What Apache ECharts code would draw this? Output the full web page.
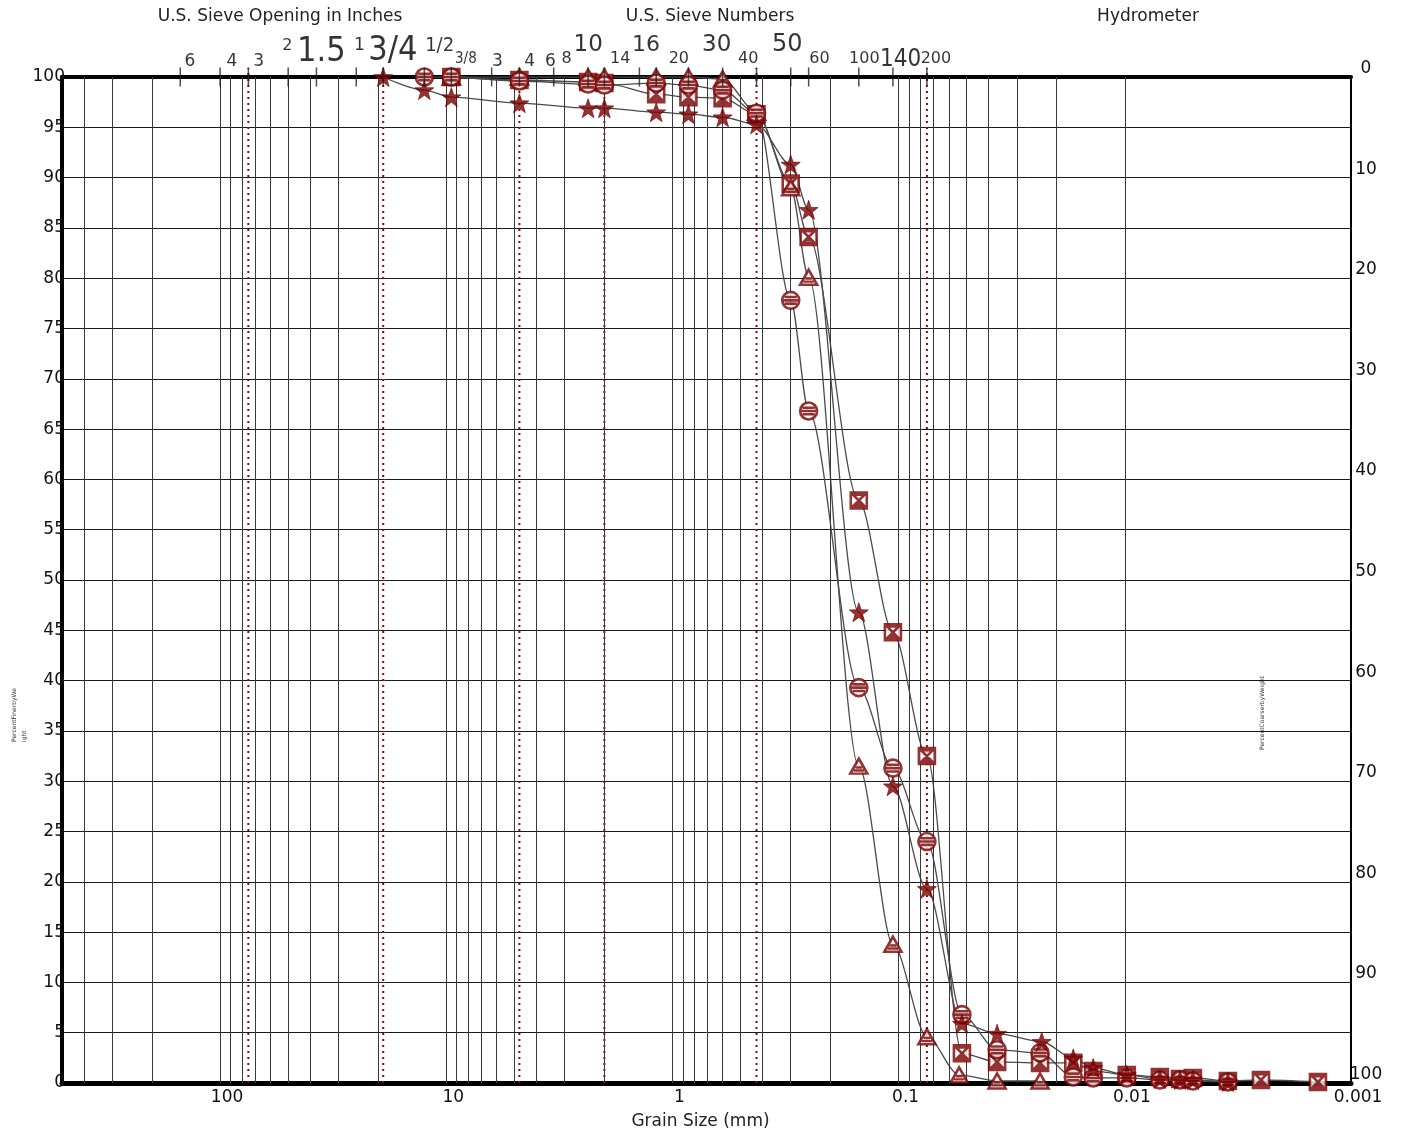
<!DOCTYPE html>
<html><head><meta charset="utf-8">
<script src="https://cdn.jsdelivr.net/npm/echarts@6/dist/echarts.min.js"></script>
<style>html,body{margin:0;padding:0;background:#fff}#c{width:1403px;height:1137px}</style>
</head><body><div id="c"></div>
<script>
// ---------------- DATA ----------------
// Sample 1 (star)
const starSizes = [19.0, 12.5, 9.5, 4.75, 2.36, 2.0, 1.18, 0.85, 0.6, 0.425, 0.3, 0.25, 0.15, 0.106, 0.075, 0.0525, 0.0367, 0.0233, 0.0169, 0.0138, 0.0098, 0.0070, 0.0057, 0.0050, 0.0035];
const starFiner = [100, 98.7, 98.0, 97.4, 96.9, 96.9, 96.5, 96.3, 96.0, 95.3, 91.3, 86.8, 46.8, 29.5, 19.3, 5.9, 4.9, 4.1, 2.45, 1.5, 0.8, 0.4, 0.3, 0.3, 0.1];
// Sample 2 (circle)
const circleSizes = [12.5, 9.5, 4.75, 2.36, 2.0, 1.18, 0.85, 0.6, 0.425, 0.3, 0.25, 0.15, 0.106, 0.075, 0.0525, 0.0367, 0.0237, 0.0169, 0.0138, 0.0098, 0.0070, 0.0057, 0.0050, 0.0035];
const circleFiner = [100, 100, 99.6, 99.3, 99.2, 99.4, 99.2, 98.7, 96.4, 77.8, 66.8, 39.3, 31.3, 24.0, 6.8, 3.3, 3.0, 0.6, 0.5, 0.5, 0.3, 0.3, 0.2, 0.1];
// Sample 3 (triangle)
const triSizes = [9.5, 4.75, 2.36, 2.0, 1.18, 0.85, 0.6, 0.425, 0.3, 0.25, 0.15, 0.106, 0.075, 0.054, 0.0367, 0.0237];
const triFiner = [100, 100, 100, 100, 100, 100, 99.8, 96.5, 89.0, 80.1, 31.5, 13.8, 4.6, 0.8, 0.2, 0.2];
// Sample 4 (hourglass box)
const hourSizes = [9.5, 4.75, 2.36, 2.0, 1.18, 0.85, 0.6, 0.425, 0.3, 0.25, 0.15, 0.106, 0.075, 0.0525, 0.0367, 0.0237, 0.0169, 0.0138, 0.0098, 0.0070, 0.0057, 0.0050, 0.0035, 0.0025, 0.0014];
const hourFiner = [100, 99.7, 99.5, 99.4, 98.3, 98.0, 97.9, 96.3, 89.4, 84.1, 57.9, 44.8, 32.5, 2.95, 2.1, 2.0, 2.0, 1.2, 0.8, 0.6, 0.4, 0.5, 0.2, 0.3, 0.1];

// Top axis: sieve openings in inches (mm) and U.S. sieve numbers (mm)
const inchSizes = [150, 100, 75, 50, 37.5, 25, 19, 12.5, 9.5];
const inchLabels = ['6', '4', '3', '2', '1.5', '1', '3/4', '1/2', '3/8'];
const sieveSizes = [6.3, 4.75, 3.35, 2.36, 2.0, 1.4, 1.18, 0.85, 0.6, 0.425, 0.3, 0.25, 0.15, 0.106, 0.075];
const sieveLabels = ['3', '4', '6', '8', '10', '14', '16', '20', '30', '40', '50', '60', '100', '140', '200'];
// Soil classification boundaries (mm)
const boundarySizes = [75, 19, 4.75, 2.0, 0.425, 0.075];
// Axis ranges
const xRange = [0.001, 500];
const yTicksLeft = 5, yTicksRight = 10;

// ---------------- STYLE ----------------
const RED = '#780000';
const FONT = '"DejaVu Sans", Verdana, sans-serif';
const COND = '"DejaVu Sans Condensed", "Liberation Sans Narrow", "DejaVu Sans", sans-serif';
// [fontSize, condensed, dx, centerY] for top labels
const inchLabelStyle = [
  [17, 0, 10.5, 62], [17, 0, 12.5, 62], [17, 0, 11, 62], [16, 0, 0, 46], [34, 1, 5.7, 52.5],
  [17, 0, 3.8, 46], [34, 1, 10.4, 51.5], [20, 1, 16, 46], [15, 1, 15.3, 59]
];
const sieveLabelStyle = [
  [17, 0, 6.5, 62], [17, 0, 11, 62], [17, 0, -2.6, 62], [16, 0, -20.7, 59], [23, 0, -15.4, 45.5],
  [16, 0, -18.4, 59], [22, 0, -9.5, 45.5], [16, 0, -8.8, 59], [23, 0, -5.2, 45.5], [16, 0, -7.6, 59],
  [24, 0, -2.8, 45], [16, 0, 11.5, 59], [16, 0, 6.3, 59], [24, 1, 8.5, 59.5], [16, 0, 9.8, 59]
];

const SYM_STAR = 'path://M10 0 L12.35 6.76 L19.51 6.91 L13.8 11.24 L15.88 18.09 L10 14 L4.12 18.09 L6.2 11.24 L0.49 6.91 L7.65 6.76 Z';
const SYM_CIRC = 'path://M1 10 A9 9 0 1 1 19 10 A9 9 0 1 1 1 10 Z M3.5 6.5 L16.5 6.5 M1.5 10 L18.5 10 M3.5 13.5 L16.5 13.5';
const SYM_TRI = 'path://M10 1 L19 18 L1 18 Z M6.5 11 L13.5 11 M4.5 14.5 L15.5 14.5';
const SYM_HOUR = 'path://M1 1 L19 1 L19 19 L1 19 Z M3.5 3.5 L16.5 3.5 L10 10 Z M10 10 L16.5 16.5 L3.5 16.5 Z M6 13.5 L14 13.5';

// ---------------- BUILD ----------------
const pairs = (xs, ys) => xs.map((x, i) => [x, ys[i]]);

const gridX = [];
for (let e = -3; e <= 2; e++) {
  for (let m = 1; m <= 9; m++) {
    const v = +(m * Math.pow(10, e)).toPrecision(4);
    if (v > xRange[0] * 1.0001 && v < xRange[1]) gridX.push(v);
  }
}

function sample(name, xs, ys, symbol, size, filled) {
  const d = pairs(xs, ys);
  return [
    {
      name: name + '-line', type: 'line', data: d, showSymbol: false, symbol: 'none',
      smooth: 0.3, smoothMonotone: 'x', z: 3, silent: true,
      lineStyle: { color: '#4a4a4a', width: 1.3 }
    },
    {
      name: name, type: 'scatter', data: d, symbol: symbol, symbolSize: size, z: 5, silent: true,
      itemStyle: filled ? { color: RED, borderColor: RED, borderWidth: 0.8 } : { color: '#ffffff', borderColor: RED, borderWidth: 2.6 }
    }
  ];
}

function boundarySeries(v) {
  return {
    name: 'boundary-' + v, type: 'line', data: [[v, 0], [v, 100.9]], symbol: 'none', showSymbol: false,
    z: 2, silent: true, clip: false,
    lineStyle: { color: '#a00000', width: 2, type: [2, 4] }
  };
}

function topLabels(sizes, labels, styles) {
  return sizes.map((s, i) => {
    const st = styles[i];
    return {
      value: [s, 100],
      label: {
        show: true, formatter: labels[i], position: [st[2], st[3] - 67.5],
        align: 'center', verticalAlign: 'middle',
        fontSize: st[0], fontFamily: st[1] ? COND : FONT, color: '#000'
      }
    };
  });
}

function fmtX(v) {
  const e = Math.log10(v);
  const r = Math.round(e);
  if (Math.abs(e - r) > 1e-6) return '';
  return r >= 0 ? String(Math.pow(10, r)) : Math.pow(10, r).toFixed(-r);
}

const option = {
  animation: false,
  backgroundColor: '#ffffff',
  grid: { left: 62, right: 52, top: 77, bottom: 54, outerBoundsMode: 'none', containLabel: false },
  xAxis: [
    {
      type: 'log', logBase: 10, min: xRange[0], max: xRange[1], inverse: true, position: 'bottom',
      axisLine: { show: true, lineStyle: { color: '#000', width: 5 } },
      axisTick: { show: false }, splitLine: { show: false },
      axisLabel: { formatter: fmtX, fontSize: 17, color: '#111', fontFamily: FONT, margin: 6, padding: [0, 0, 0, 14], showMaxLabel: false },
      name: 'Grain Size (mm)', nameLocation: 'middle', nameGap: 30,
      nameTextStyle: { fontSize: 17, color: '#222', fontFamily: FONT, padding: [0, 12, 0, 0] }
    },
    {
      type: 'log', logBase: 10, min: xRange[0], max: xRange[1], inverse: true, position: 'top',
      axisLine: { show: true, lineStyle: { color: '#000', width: 4 } },
      axisTick: { show: false }, axisLabel: { show: false }, splitLine: { show: false }
    }
  ],
  yAxis: [
    {
      type: 'value', min: 0, max: 100, interval: yTicksLeft, position: 'left',
      axisLine: { show: true, lineStyle: { color: '#000', width: 4 } },
      axisTick: { show: false },
      splitLine: { show: true, lineStyle: { color: '#1a1a1a', width: 1 } },
      axisLabel: { fontSize: 17, color: '#111', fontFamily: FONT, margin: -3 }
    },
    {
      type: 'value', min: 0, max: 100, interval: yTicksRight, position: 'right', inverse: true,
      axisLine: { show: true, lineStyle: { color: '#000', width: 2 } },
      axisTick: { show: false }, splitLine: { show: false },
      axisLabel: { fontSize: 17, color: '#111', fontFamily: FONT, margin: 15, align: 'center', verticalAlign: 'bottom' }
    }
  ],
  graphic: [
    { type: 'text', x: 280, y: 17, style: { text: 'U.S. Sieve Opening in Inches', fontSize: 17, fontFamily: FONT, fill: '#222', align: 'center', verticalAlign: 'middle' } },
    { type: 'text', x: 710, y: 17, style: { text: 'U.S. Sieve Numbers', fontSize: 17, fontFamily: FONT, fill: '#222', align: 'center', verticalAlign: 'middle' } },
    { type: 'text', x: 1148, y: 17, style: { text: 'Hydrometer', fontSize: 17, fontFamily: FONT, fill: '#222', align: 'center', verticalAlign: 'middle' } },
    { type: 'text', x: 19, y: 742, rotation: Math.PI / 2, style: { text: 'PercentFinerbyWe\night', fontSize: 6, lineHeight: 10, fontFamily: FONT, fill: '#333', align: 'left', verticalAlign: 'middle' } },
    { type: 'text', x: 1262, y: 750, rotation: Math.PI / 2, style: { text: 'PercentCoarserbyWeight', fontSize: 6, fontFamily: FONT, fill: '#333', align: 'left', verticalAlign: 'middle' } }
  ],
  series: [
    {
      name: 'grid', type: 'line', data: [], z: 1, silent: true,
      markLine: {
        silent: true, symbol: ['none', 'none'], label: { show: false }, animation: false,
        lineStyle: { color: '#3a3a3a', width: 1, type: 'solid' },
        data: gridX.map(v => ({ xAxis: v }))
      }
    },
    ...boundarySizes.map(boundarySeries),
    ...sample('Hourglass', hourSizes, hourFiner, SYM_HOUR, 16, false),
    ...sample('Triangle', triSizes, triFiner, SYM_TRI, [17, 15], false),
    ...sample('Circle', circleSizes, circleFiner, SYM_CIRC, 17, false),
    ...sample('Star', starSizes, starFiner, SYM_STAR, 19, true),
    {
      name: 'inchTicks', type: 'scatter', z: 6, silent: true, symbol: 'rect', symbolSize: [1.5, 19],
      itemStyle: { color: '#222' }, clip: false,
      data: topLabels(inchSizes, inchLabels, inchLabelStyle)
    },
    {
      name: 'sieveTicks', type: 'scatter', z: 6, silent: true, symbol: 'rect', symbolSize: [1.5, 19],
      itemStyle: { color: '#222' }, clip: false,
      data: topLabels(sieveSizes, sieveLabels, sieveLabelStyle)
    }
  ]
};

const chart = echarts.init(document.getElementById('c'), null, { renderer: 'canvas' });
chart.setOption(option);
</script>
</body></html>
